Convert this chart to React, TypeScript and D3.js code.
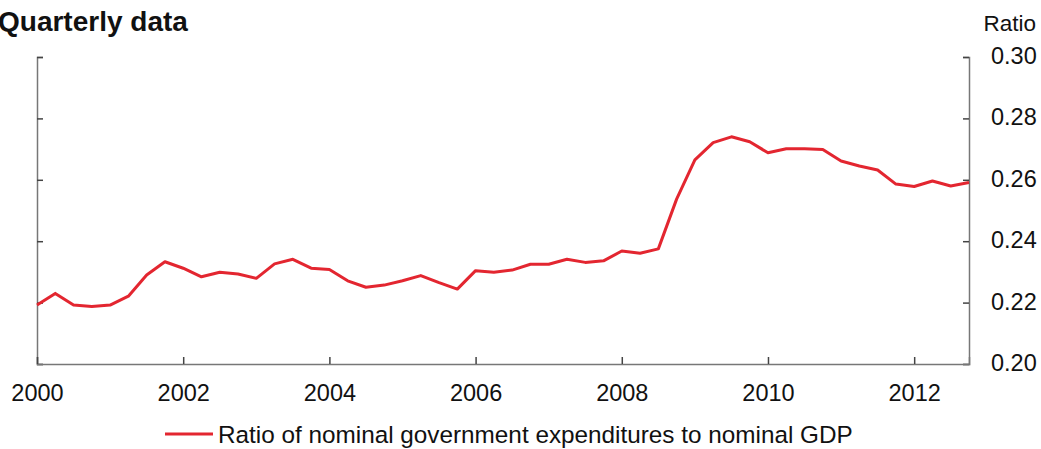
import { useEffect, useRef } from 'react'
import * as d3 from 'd3'

// Ratio of nominal government expenditures to nominal GDP, quarterly from 2000Q1
const START_YEAR = 2000
const RATIO = [
  0.2192, 0.2230, 0.2192, 0.2187, 0.2192, 0.2221, 0.2290, 0.2333,
  0.2312, 0.2284, 0.2299, 0.2293, 0.2279, 0.2326, 0.2341, 0.2312,
  0.2308, 0.2271, 0.2250, 0.2257, 0.2271, 0.2288, 0.2265, 0.2244,
  0.2304, 0.2299, 0.2306, 0.2325, 0.2325, 0.2341, 0.2331, 0.2336,
  0.2368, 0.2361, 0.2375, 0.2537, 0.2665, 0.2721, 0.2740, 0.2724,
  0.2688, 0.2701, 0.2701, 0.2699, 0.2661, 0.2645, 0.2632, 0.2586,
  0.2578, 0.2596, 0.2580, 0.2591,
]
const X_TICKS = [2000, 2002, 2004, 2006, 2008, 2010, 2012]
const Y_TICKS = [0.20, 0.22, 0.24, 0.26, 0.28, 0.30]

const TITLE = 'Quarterly data'
const UNIT = 'Ratio'
const LEGEND = 'Ratio of nominal government expenditures to nominal GDP'

const RED = '#e32630'
const FONT = '"Liberation Sans", Arial, sans-serif'

export default function App() {
  const svgRef = useRef<SVGSVGElement>(null)

  useEffect(() => {
    const svg = d3.select(svgRef.current)
    svg.selectAll('*').remove()

    const width = 1041
    const height = 449
    const left = 37, right = 969, top = 57, bottom = 364

    const dates = RATIO.map((_, i) => START_YEAR + i / 4)
    const x = d3.scaleLinear().domain([START_YEAR, dates[dates.length - 1]]).range([left, right])
    const y = d3.scaleLinear().domain([0.20, 0.30]).range([bottom, top])

    svg.attr('width', width).attr('height', height)

    // Title + unit
    svg.append('text')
      .attr('x', -2).attr('y', 31)
      .attr('font-family', FONT).attr('font-weight', 'bold').attr('font-size', 28)
      .attr('fill', '#111')
      .text(TITLE)

    svg.append('text')
      .attr('x', 1036).attr('y', 31)
      .attr('text-anchor', 'end')
      .attr('font-family', FONT).attr('font-size', 22.5)
      .attr('fill', '#111')
      .text(UNIT)

    // Right axis with labels, ticks pointing inward
    svg.append('g')
      .attr('transform', `translate(${right},0)`)
      .call(d3.axisRight(y).tickValues(Y_TICKS).tickSize(-6).tickPadding(22).tickFormat(d3.format('.2f')))
      .call(ax => {
        ax.select('.domain').attr('stroke', '#777').attr('stroke-width', 1.5)
        ax.selectAll('.tick line').attr('stroke', '#444').attr('stroke-width', 1.5)
        ax.selectAll('text')
          .attr('fill', '#111').attr('font-size', 23.5).attr('font-family', FONT)
          .attr('dy', '0.28em')
      })

    // Left axis, ticks only
    svg.append('g')
      .attr('transform', `translate(${left},0)`)
      .call(d3.axisLeft(y).tickValues(Y_TICKS).tickSize(-6).tickFormat(() => ''))
      .call(ax => {
        ax.select('.domain').attr('stroke', '#777').attr('stroke-width', 1.5)
        ax.selectAll('.tick line').attr('stroke', '#444').attr('stroke-width', 1.5)
      })

    // Bottom axis
    svg.append('g')
      .attr('transform', `translate(0,${bottom})`)
      .call(d3.axisBottom(x).tickValues(X_TICKS).tickSize(-7).tickPadding(20).tickFormat(d3.format('d')))
      .call(ax => {
        ax.select('.domain').attr('stroke', '#777').attr('stroke-width', 1.5)
        ax.selectAll('.tick line').attr('stroke', '#444').attr('stroke-width', 1.5)
        ax.selectAll('text')
          .attr('fill', '#111').attr('font-size', 23.5).attr('font-family', FONT)
      })

    // Series
    const line = d3.line<number>()
      .x((_, i) => x(dates[i]))
      .y(d => y(d))

    svg.append('path')
      .attr('d', line(RATIO))
      .attr('fill', 'none')
      .attr('stroke', RED)
      .attr('stroke-width', 3)
      .attr('stroke-linejoin', 'round')

    // Legend
    const lg = svg.append('g').attr('transform', 'translate(165,434)')
    lg.append('line')
      .attr('x1', 0).attr('x2', 48).attr('y1', 0).attr('y2', 0)
      .attr('stroke', RED).attr('stroke-width', 3)
    lg.append('text')
      .attr('x', 53).attr('y', 8.5)
      .attr('font-family', FONT).attr('font-size', 24.3)
      .attr('fill', '#111')
      .text(LEGEND)
  }, [])

  return (
    <svg ref={svgRef} style={{ position: 'absolute', left: 0, top: 0, display: 'block', background: '#fff' }} />
  )
}
